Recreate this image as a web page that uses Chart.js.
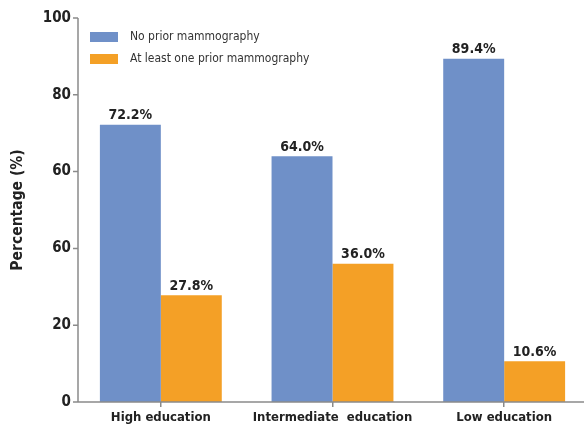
<!DOCTYPE html>
<html>
<head>
<meta charset="utf-8">
<script src="https://cdn.jsdelivr.net/npm/chart.js@4"></script>
<style>
    html, body { margin: 0; padding: 0; background: #fff; overflow: hidden; }
    #myChart { display: block; }
</style>
</head>
<body>
<canvas id="myChart" width="590" height="428"></canvas>
<script>
const categories = ['High education', 'Intermediate  education', 'Low education'];
const seriesNames = ['No prior mammography', 'At least one prior mammography'];
const noPrior = [72.2, 64.0, 89.4];
const atLeastOne = [27.8, 36.0, 10.6];
const yTickLabels = ['0', '20', '60', '60', '80', '100'];

const FONT = '"DejaVu Sans Condensed", "DejaVu Sans", sans-serif';
const AXIS_GREY = '#8a8a8a';
const AXIS_X = 78;

// percentage labels above each bar
const valueLabels = {
    id: 'valueLabels',
    afterDatasetsDraw(chart) {
        const ctx = chart.ctx;
        ctx.save();
        ctx.font = 'bold 14px ' + FONT;
        ctx.fillStyle = '#222';
        ctx.textAlign = 'center';
        ctx.textBaseline = 'bottom';
        chart.data.datasets.forEach((ds, i) => {
            chart.getDatasetMeta(i).data.forEach((bar, j) => {
                ctx.fillText(ds.data[j].toFixed(1) + '%', bar.x, bar.y - 2);
            });
        });
        ctx.restore();
    }
};

// axis lines: the y axis sits a little inside the first category
const axisLines = {
    id: 'axisLines',
    afterDraw(chart) {
        const ctx = chart.ctx;
        const area = chart.chartArea;
        const y = chart.scales.y;
        ctx.save();
        ctx.strokeStyle = AXIS_GREY;
        ctx.lineWidth = 1.5;
        ctx.beginPath();
        ctx.moveTo(AXIS_X, area.top);
        ctx.lineTo(AXIS_X, area.bottom);
        ctx.lineTo(chart.width, area.bottom);
        y.ticks.forEach(t => {
            const py = y.getPixelForValue(t.value);
            ctx.moveTo(AXIS_X - 5, py);
            ctx.lineTo(AXIS_X, py);
        });
        ctx.stroke();
        ctx.restore();
    }
};

// legend box inside the plot area, top left
const innerLegend = {
    id: 'innerLegend',
    afterDraw(chart) {
        const ctx = chart.ctx;
        const area = chart.chartArea;
        ctx.save();
        ctx.font = '12px ' + FONT;
        ctx.textBaseline = 'middle';
        chart.data.datasets.forEach((ds, i) => {
            const y = area.top + 19 + i * 22;
            ctx.fillStyle = ds.backgroundColor;
            ctx.fillRect(AXIS_X + 12, y - 5, 28, 10);
            ctx.fillStyle = '#333';
            ctx.fillText(ds.label, AXIS_X + 52, y);
        });
        ctx.restore();
    }
};

const data = {
    labels: categories,
    datasets: [{
        label: seriesNames[0],
        data: noPrior,
        backgroundColor: '#6f90c8'
    }, {
        label: seriesNames[1],
        data: atLeastOne,
        backgroundColor: '#f4a026'
    }]
};

const options = {
    responsive: false,
    animation: false,
    layout: { padding: { top: 18, left: 0, right: 0, bottom: 0 } },
    datasets: {
        bar: { barPercentage: 1, categoryPercentage: 0.71 }
    },
    plugins: {
        legend: { display: false },
        tooltip: { enabled: false }
    },
    scales: {
        x: {
            grid: {
                offset: false,
                drawOnChartArea: false,
                color: AXIS_GREY,
                lineWidth: 1.5,
                tickLength: 5
            },
            border: { display: false },
            ticks: {
                color: '#222',
                padding: 3,
                maxRotation: 0,
                minRotation: 0,
                autoSkip: false,
                font: { family: FONT, size: 13, weight: 'bold' }
            },
            afterFit(scale) { scale.height = 26; }
        },
        y: {
            min: 0,
            max: 100,
            ticks: {
                stepSize: 20,
                color: '#222',
                padding: 4,
                font: { family: FONT, size: 15, weight: 'bold' },
                callback: (value, index) => yTickLabels[index]
            },
            grid: { display: false, drawTicks: false },
            border: { display: false },
            title: {
                display: true,
                text: 'Percentage (%)',
                color: '#222',
                padding: { top: 9, bottom: 0 },
                font: { family: FONT, size: 15.5, weight: 'bold' }
            },
            afterFit(scale) { scale.width = 75; }
        }
    }
};

new Chart(document.getElementById('myChart'), {
    type: 'bar',
    data: data,
    options: options,
    plugins: [valueLabels, axisLines, innerLegend]
});
</script>
</body>
</html>
